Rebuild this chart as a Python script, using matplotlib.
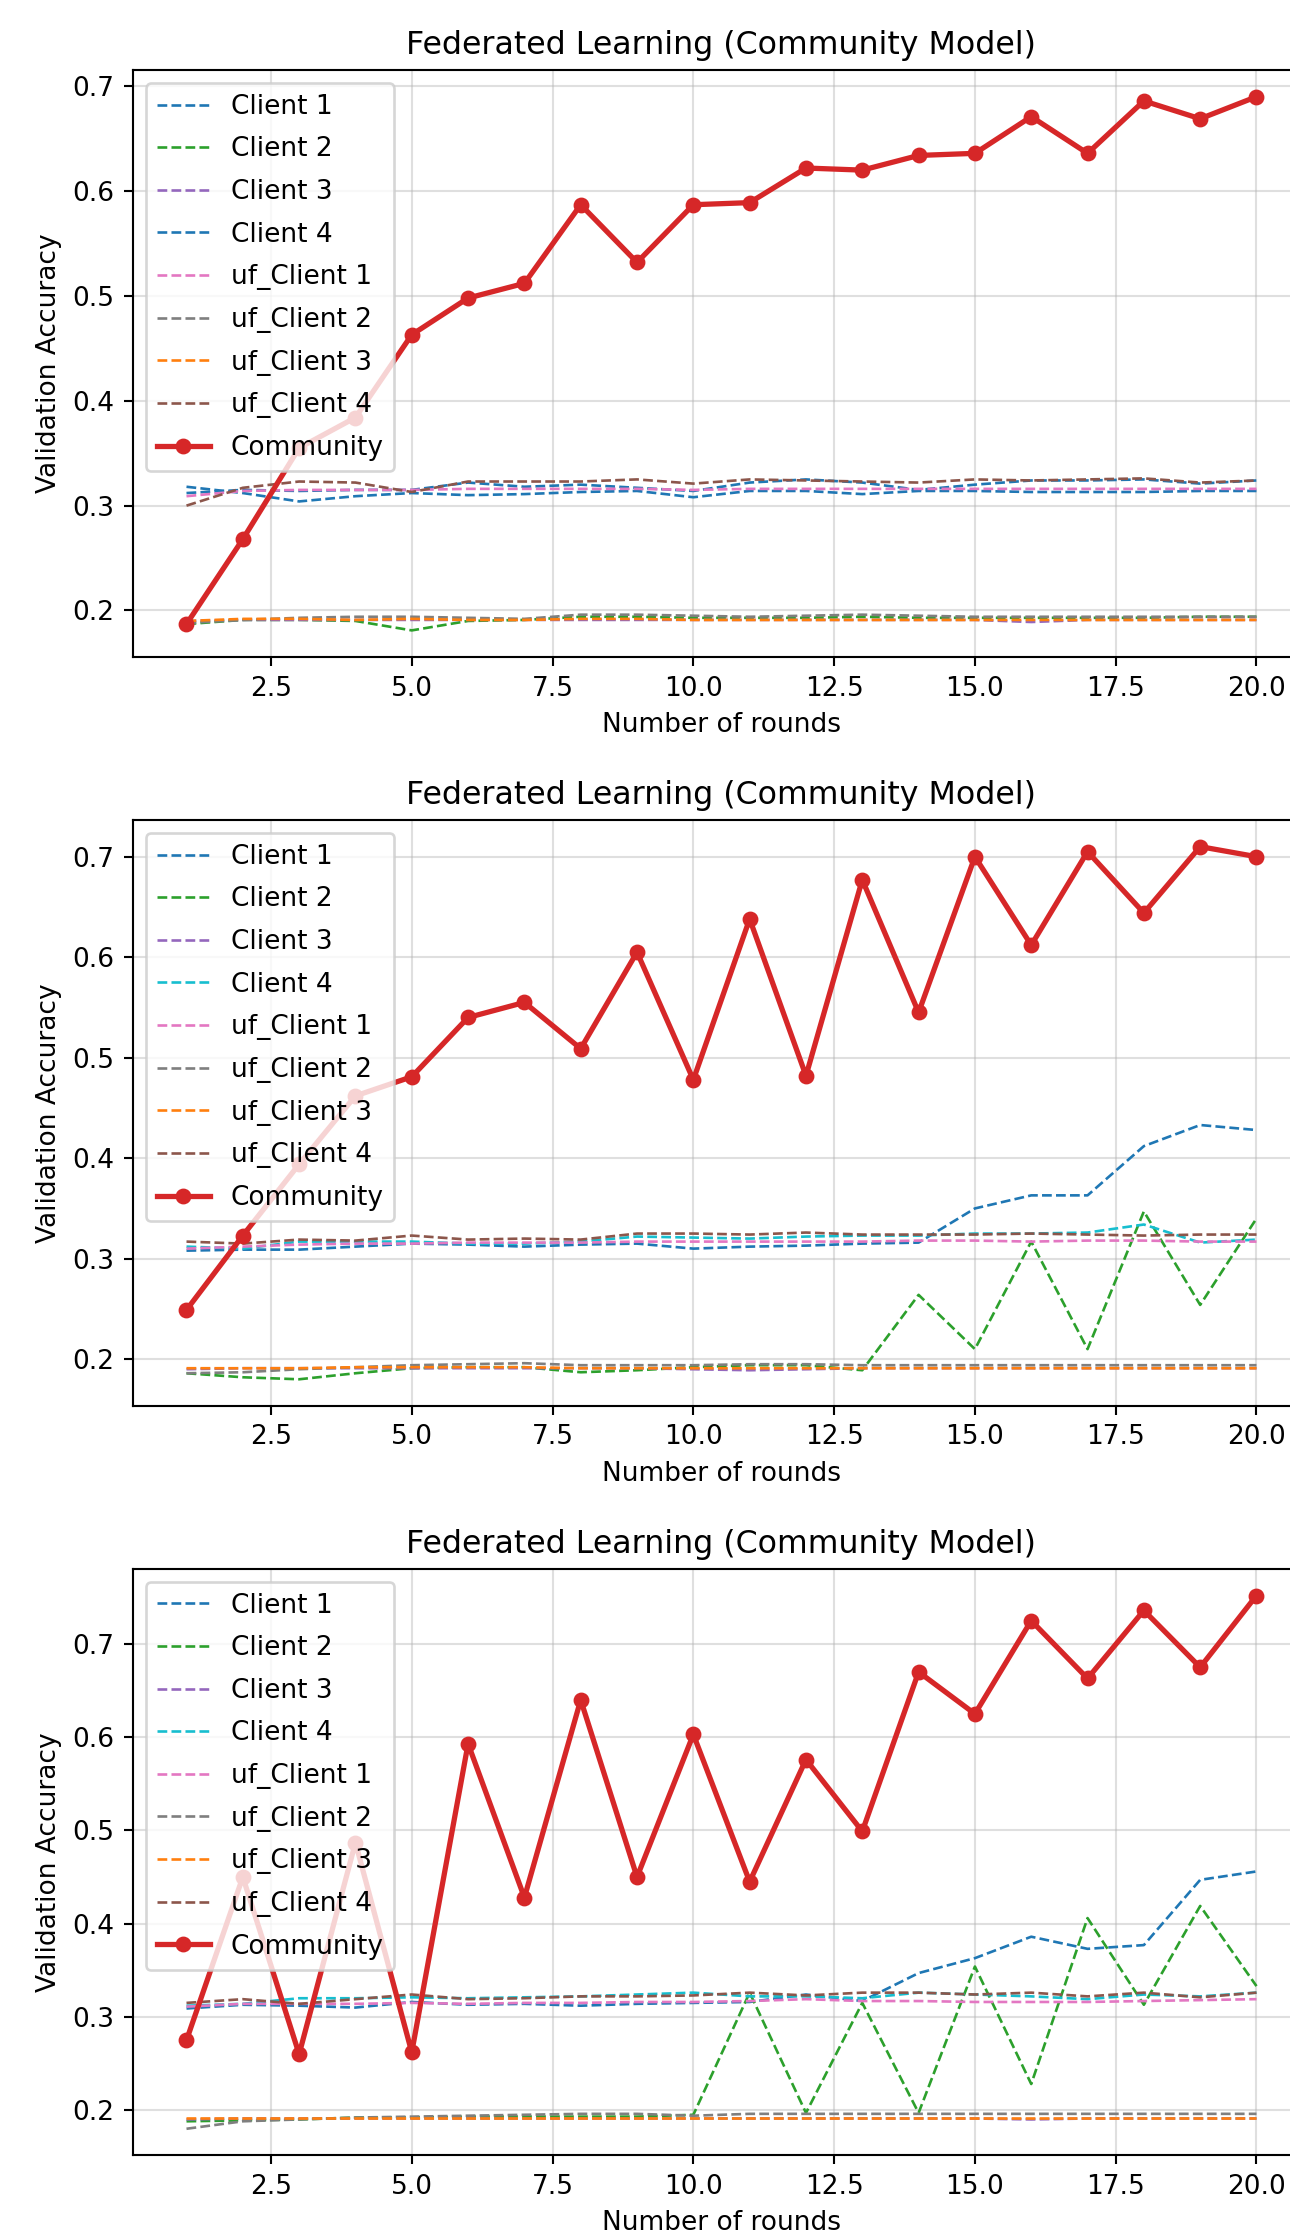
import matplotlib
matplotlib.use("Agg")
import matplotlib.pyplot as plt

# rounds on the x axis
rounds = list(range(1, 21))
client_names = ['Client 1', 'Client 2', 'Client 3', 'Client 4',
                'uf_Client 1', 'uf_Client 2', 'uf_Client 3', 'uf_Client 4']

# ---- run 1 ----
run1_community = [0.187, 0.268, 0.355, 0.384, 0.463, 0.498, 0.512, 0.587, 0.532, 0.587,
                  0.589, 0.622, 0.620, 0.634, 0.636, 0.671, 0.636, 0.686, 0.669, 0.690]
run1_client1 = [0.318, 0.312, 0.304, 0.309, 0.312, 0.310, 0.311, 0.313, 0.314, 0.308,
                0.314, 0.314, 0.311, 0.314, 0.314, 0.313, 0.313, 0.313, 0.314, 0.314]
run1_client2 = [0.187, 0.191, 0.191, 0.190, 0.181, 0.190, 0.191, 0.194, 0.194, 0.193,
                0.193, 0.193, 0.194, 0.193, 0.193, 0.193, 0.193, 0.193, 0.194, 0.194]
run1_client3 = [0.190, 0.191, 0.191, 0.191, 0.191, 0.191, 0.191, 0.191, 0.191, 0.191,
                0.191, 0.191, 0.191, 0.191, 0.191, 0.189, 0.191, 0.191, 0.191, 0.191]
run1_client4 = [0.312, 0.315, 0.314, 0.315, 0.315, 0.322, 0.318, 0.320, 0.317, 0.314,
                0.322, 0.325, 0.322, 0.315, 0.320, 0.324, 0.324, 0.325, 0.321, 0.324]
run1_uf1 = [0.309, 0.314, 0.315, 0.315, 0.315, 0.316, 0.316, 0.316, 0.316, 0.315,
            0.316, 0.316, 0.316, 0.316, 0.316, 0.316, 0.316, 0.316, 0.316, 0.316]
run1_uf2 = [0.188, 0.191, 0.193, 0.194, 0.194, 0.193, 0.192, 0.196, 0.196, 0.195,
            0.194, 0.195, 0.196, 0.195, 0.194, 0.194, 0.194, 0.194, 0.194, 0.194]
run1_uf3 = [0.190, 0.192, 0.192, 0.191, 0.192, 0.191, 0.191, 0.192, 0.192, 0.191,
            0.191, 0.191, 0.191, 0.191, 0.191, 0.191, 0.191, 0.191, 0.191, 0.191]
run1_uf4 = [0.300, 0.317, 0.323, 0.322, 0.313, 0.323, 0.323, 0.323, 0.325, 0.321,
            0.325, 0.324, 0.323, 0.322, 0.325, 0.324, 0.325, 0.326, 0.322, 0.324]

# ---- run 2 ----
run2_community = [0.249, 0.323, 0.394, 0.462, 0.481, 0.540, 0.555, 0.509, 0.605, 0.478,
                  0.638, 0.482, 0.677, 0.545, 0.700, 0.612, 0.705, 0.644, 0.710, 0.700]
run2_client1 = [0.308, 0.309, 0.309, 0.312, 0.315, 0.314, 0.312, 0.314, 0.315, 0.310,
                0.312, 0.313, 0.315, 0.316, 0.350, 0.363, 0.363, 0.412, 0.433, 0.428]
run2_client2 = [0.186, 0.182, 0.180, 0.186, 0.191, 0.192, 0.192, 0.187, 0.189, 0.192,
                0.194, 0.194, 0.189, 0.264, 0.210, 0.317, 0.210, 0.347, 0.254, 0.340]
run2_client3 = [0.190, 0.191, 0.191, 0.191, 0.191, 0.191, 0.191, 0.191, 0.191, 0.190,
                0.189, 0.190, 0.191, 0.191, 0.191, 0.191, 0.191, 0.191, 0.191, 0.191]
run2_client4 = [0.312, 0.310, 0.317, 0.317, 0.317, 0.315, 0.315, 0.317, 0.322, 0.321,
                0.320, 0.322, 0.323, 0.323, 0.325, 0.325, 0.326, 0.334, 0.316, 0.319]
run2_uf1 = [0.310, 0.312, 0.314, 0.315, 0.315, 0.316, 0.316, 0.316, 0.317, 0.317,
            0.317, 0.317, 0.317, 0.318, 0.318, 0.317, 0.318, 0.318, 0.317, 0.317]
run2_uf2 = [0.186, 0.187, 0.190, 0.192, 0.194, 0.195, 0.196, 0.194, 0.194, 0.194,
            0.195, 0.195, 0.194, 0.194, 0.194, 0.194, 0.194, 0.194, 0.194, 0.194]
run2_uf3 = [0.191, 0.191, 0.191, 0.192, 0.192, 0.192, 0.192, 0.191, 0.191, 0.191,
            0.191, 0.191, 0.191, 0.191, 0.191, 0.191, 0.191, 0.191, 0.191, 0.191]
run2_uf4 = [0.317, 0.315, 0.319, 0.318, 0.323, 0.319, 0.320, 0.319, 0.325, 0.325,
            0.324, 0.326, 0.324, 0.324, 0.324, 0.325, 0.324, 0.323, 0.324, 0.324]

# ---- run 3 ----
run3_community = [0.275, 0.450, 0.260, 0.487, 0.262, 0.593, 0.428, 0.640, 0.450, 0.603,
                  0.445, 0.576, 0.499, 0.670, 0.625, 0.725, 0.663, 0.736, 0.675, 0.752]
run3_client1 = [0.309, 0.313, 0.312, 0.310, 0.316, 0.313, 0.314, 0.312, 0.314, 0.315,
                0.316, 0.324, 0.317, 0.347, 0.363, 0.386, 0.373, 0.377, 0.447, 0.456]
run3_client2 = [0.188, 0.189, 0.190, 0.192, 0.192, 0.193, 0.193, 0.193, 0.193, 0.195,
                0.326, 0.197, 0.315, 0.197, 0.354, 0.228, 0.406, 0.313, 0.419, 0.333]
run3_client3 = [0.190, 0.191, 0.191, 0.191, 0.191, 0.191, 0.191, 0.191, 0.191, 0.191,
                0.191, 0.191, 0.191, 0.191, 0.191, 0.190, 0.191, 0.191, 0.191, 0.191]
run3_client4 = [0.312, 0.314, 0.320, 0.320, 0.321, 0.320, 0.321, 0.322, 0.324, 0.326,
                0.322, 0.322, 0.320, 0.326, 0.324, 0.322, 0.319, 0.324, 0.322, 0.326]
run3_uf1 = [0.311, 0.314, 0.314, 0.314, 0.315, 0.314, 0.315, 0.315, 0.316, 0.316,
            0.317, 0.319, 0.317, 0.317, 0.316, 0.316, 0.316, 0.317, 0.318, 0.319]
run3_uf2 = [0.180, 0.188, 0.190, 0.192, 0.193, 0.194, 0.195, 0.196, 0.196, 0.194,
            0.196, 0.196, 0.196, 0.196, 0.196, 0.196, 0.196, 0.196, 0.196, 0.196]
run3_uf3 = [0.192, 0.192, 0.192, 0.192, 0.192, 0.192, 0.192, 0.192, 0.192, 0.192,
            0.192, 0.192, 0.192, 0.192, 0.192, 0.192, 0.192, 0.192, 0.192, 0.192]
run3_uf4 = [0.315, 0.319, 0.314, 0.319, 0.324, 0.319, 0.320, 0.322, 0.322, 0.323,
            0.326, 0.323, 0.326, 0.326, 0.324, 0.326, 0.322, 0.326, 0.321, 0.326]

runs = [
    (run1_community, [run1_client1, run1_client2, run1_client3, run1_client4,
                      run1_uf1, run1_uf2, run1_uf3, run1_uf4]),
    (run2_community, [run2_client1, run2_client2, run2_client3, run2_client4,
                      run2_uf1, run2_uf2, run2_uf3, run2_uf4]),
    (run3_community, [run3_client1, run3_client2, run3_client3, run3_client4,
                      run3_uf1, run3_uf2, run3_uf3, run3_uf4]),
]

# first run used the default blue for Client 4, later ones cyan
colors_run1 = ['tab:blue', 'tab:green', 'tab:purple', 'tab:blue',
               'tab:pink', 'tab:gray', 'tab:orange', 'tab:brown']
colors_other = ['tab:blue', 'tab:green', 'tab:purple', 'tab:cyan',
                'tab:pink', 'tab:gray', 'tab:orange', 'tab:brown']

dpi = 190
fig = plt.figure(figsize=(1290 / dpi, 2238 / dpi), dpi=dpi)

# axes boxes in figure fractions (the original was cropped on the right)
boxes = [(0.1031, 0.7064, 0.9124, 0.2623),
         (0.1031, 0.3718, 0.9124, 0.2618),
         (0.1031, 0.0369, 0.9124, 0.2621)]

for i, (community, clients) in enumerate(runs):
    ax = fig.add_axes(boxes[i])
    colors = colors_run1 if i == 0 else colors_other
    for name, vals, col in zip(client_names, clients, colors):
        ax.plot(rounds, vals, linestyle='--', linewidth=1, color=col, label=name)
    ax.plot(rounds, community, marker='o', markersize=5, linewidth=2,
            color='tab:red', label='Community')
    ax.set_title('Federated Learning (Community Model)')
    ax.set_xlabel('Number of rounds')
    ax.set_ylabel('Validation Accuracy')
    ax.grid(True, alpha=0.4)
    ax.legend(loc='upper left', labelspacing=0.63)

fig.savefig('out.png', dpi=dpi)
